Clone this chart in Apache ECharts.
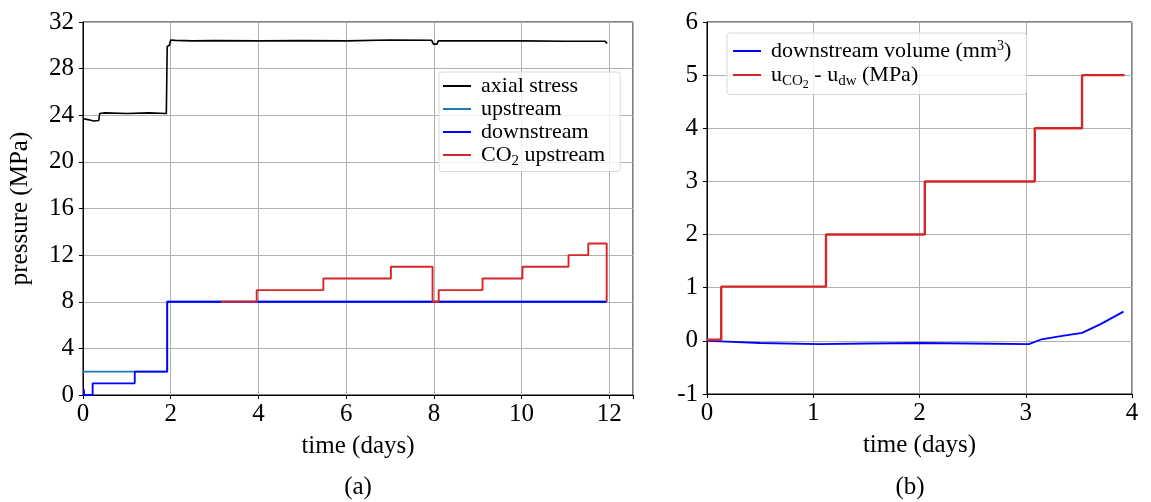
<!DOCTYPE html>
<html>
<head>
<meta charset="utf-8">
<script src="https://cdn.jsdelivr.net/npm/echarts@6/dist/echarts.min.js"></script>
<style>html,body{margin:0;padding:0;background:#fff}#c{width:1151px;height:502px}</style>
</head>
<body>
<div id="c"></div>
<script>
// ---- Panel (a): pressures vs time (days) ----
var axialTime  = [0, 0.15, 0.25, 0.36, 0.38, 0.5, 1.0, 1.5, 1.9, 1.92, 1.97, 2.0, 2.1, 2.5, 3, 4, 5, 6, 7, 7.95, 7.99, 8.07, 8.1, 9, 10, 11, 11.9, 11.95];
var axialValue = [23.7, 23.6, 23.5, 23.55, 24.15, 24.2, 24.15, 24.2, 24.15, 29.9, 30.0, 30.45, 30.42, 30.38, 30.4, 30.38, 30.4, 30.38, 30.45, 30.43, 30.1, 30.1, 30.38, 30.38, 30.38, 30.35, 30.35, 30.15];

var upTime  = [0, 1.92, 11.94];
var upValue = [2, 8, 8];

var downTime  = [0.02, 0.025, 0.22, 1.18, 1.92, 11.94];
var downValue = [0.5, 0, 1, 2, 8, 8];

var co2Time  = [3.15, 3.96, 5.48, 7.02, 7.97, 8.11, 9.11, 10.02, 11.07, 11.52, 11.94, 11.95];
var co2Value = [8, 9, 10, 11, 8, 9, 10, 11, 12, 13, 8, 8];

// ---- Panel (b) ----
var volTime  = [0, 0.13, 0.5, 1.05, 1.5, 2.0, 2.5, 3.03, 3.15, 3.3, 3.53, 3.7, 3.92];
var volValue = [0, -0.01, -0.04, -0.06, -0.05, -0.04, -0.05, -0.06, 0.03, 0.08, 0.15, 0.31, 0.55];

var dpTime  = [0, 0.134, 1.12, 2.05, 3.085, 3.53, 3.93];
var dpValue = [0.02, 1.02, 2.0, 3.0, 4.0, 5.0, 5.0];

var xTicksA = [0, 2, 4, 6, 8, 10, 12];
var yTicksA = [0, 4, 8, 12, 16, 20, 24, 28, 32];
var xTicksB = [0, 1, 2, 3, 4];
var yTicksB = [-1, 0, 1, 2, 3, 4, 5, 6];

function pairs(t, v) { return t.map(function (x, i) { return [x, v[i]]; }); }

var FONT = 'Liberation Serif';
var FS = 25;
var chart = echarts.init(document.getElementById('c'), null, {renderer: 'canvas'});

function xAxis(gi, min, max, interval, ticks) {
  return {
    type: 'value', gridIndex: gi, min: min, max: max, interval: interval,
    name: 'time (days)', nameLocation: 'middle', nameGap: 39,
    nameTextStyle: {fontFamily: FONT, fontSize: FS, color: '#000'},
    axisLine: {show: true, onZero: false, lineStyle: {color: '#000', width: 1}},
    axisTick: {show: true, inside: false, length: 4, lineStyle: {color: '#000'}},
    axisLabel: {fontFamily: FONT, fontSize: FS, color: '#000', margin: 7,
      formatter: function (v) { return ticks.indexOf(Math.round(v * 1000) / 1000) >= 0 ? String(v) : ''; }},
    splitLine: {show: true, lineStyle: {color: '#b0b0b0', width: 1}}
  };
}
function yAxis(gi, min, max, interval, ticks, name) {
  return {
    type: 'value', gridIndex: gi, min: min, max: max, interval: interval,
    name: name, nameLocation: 'middle', nameGap: 50, nameRotate: 90,
    nameTextStyle: {fontFamily: FONT, fontSize: FS, color: '#000'},
    axisLine: {show: true, onZero: false, lineStyle: {color: '#000', width: 1}},
    axisTick: {show: true, inside: false, length: 4, lineStyle: {color: '#000'}},
    axisLabel: {fontFamily: FONT, fontSize: FS, color: '#000', margin: 9,
      formatter: function (v) { return ticks.indexOf(Math.round(v * 1000) / 1000) >= 0 ? String(v) : ''; }},
    splitLine: {show: true, lineStyle: {color: '#b0b0b0', width: 1}}
  };
}
function line(name, xi, t, v, color, step, w) {
  return {
    name: name, type: 'line', xAxisIndex: xi, yAxisIndex: xi, data: pairs(t, v),
    step: step ? 'end' : false, symbol: 'none', showSymbol: false, color: color,
    lineStyle: {color: color, width: w}, animation: false, silent: true
  };
}
var rich = {
  sub: {fontFamily: FONT, fontSize: 15, color: '#000', padding: [12, 0, 0, 0]},
  subsub: {fontFamily: FONT, fontSize: 12, color: '#000', padding: [19, 0, 0, 0]},
  sup: {fontFamily: FONT, fontSize: 14, color: '#000', padding: [0, 0, 10, 0]}
};
var legendBase = {
  orient: 'vertical', itemWidth: 28, itemHeight: 2, icon: 'rect',
  backgroundColor: 'rgba(255,255,255,0.8)', borderColor: '#d8d8d8', borderWidth: 1, borderRadius: 3,
  textStyle: {fontFamily: FONT, fontSize: 22, color: '#000', padding: [0, 0, 0, 5], rich: rich},
  selectedMode: false
};

chart.setOption({
  animation: false,
  backgroundColor: '#fff',
  grid: [
    {left: 83, top: 22, width: 550, height: 373, show: true, borderColor: '#000', borderWidth: 1},
    {left: 707, top: 22, width: 425, height: 372, show: true, borderColor: '#000', borderWidth: 1}
  ],
  xAxis: [xAxis(0, 0, 12.54, 2, xTicksA), xAxis(1, 0, 4, 1, xTicksB)],
  yAxis: [yAxis(0, 0, 32, 4, yTicksA, 'pressure (MPa)'), yAxis(1, -1, 6, 1, yTicksB, '')],
  legend: [
    Object.assign({}, legendBase, {
      left: 439, top: 72, itemGap: 1, padding: [3, 15, 3, 4],
      data: ['axial stress', 'upstream', 'downstream', 'CO2 upstream'],
      formatter: function (n) { return n === 'CO2 upstream' ? 'CO{sub|2} upstream' : n; }
    }),
    Object.assign({}, legendBase, {
      left: 727, top: 33, itemGap: 2, padding: [6, 15, 4, 6],
      data: ['downstream volume (mm3)', 'uCO2 - udw (MPa)'],
      formatter: function (n) {
        return n === 'uCO2 - udw (MPa)' ? 'u{sub|CO}{subsub|2} - u{sub|dw} (MPa)' : 'downstream volume (mm{sup|3})';
      }
    })
  ],
  graphic: [
    {type: 'text', x: 358, y: 487, style: {text: '(a)', fontFamily: FONT, fontSize: FS, fill: '#000', textAlign: 'center', textVerticalAlign: 'middle'}},
    {type: 'text', x: 910, y: 487, style: {text: '(b)', fontFamily: FONT, fontSize: FS, fill: '#000', textAlign: 'center', textVerticalAlign: 'middle'}}
  ],
  series: [
    line('axial stress', 0, axialTime, axialValue, '#000000', false, 1.6),
    line('upstream', 0, upTime, upValue, '#1f77b4', true, 1.8),
    line('downstream', 0, downTime, downValue, '#0000ff', true, 1.8),
    line('CO2 upstream', 0, co2Time, co2Value, '#d62728', true, 1.9),
    line('downstream volume (mm3)', 1, volTime, volValue, '#0000ff', false, 1.8),
    line('uCO2 - udw (MPa)', 1, dpTime, dpValue, '#d62728', true, 2.4)
  ]
});
</script>
</body>
</html>
